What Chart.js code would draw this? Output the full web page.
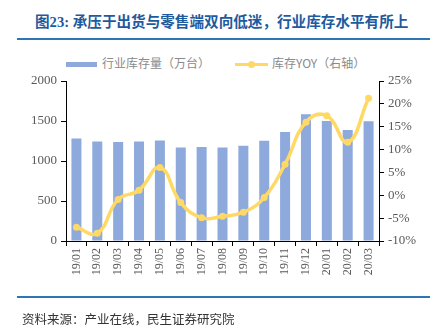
<!DOCTYPE html>
<html>
<head>
<meta charset="utf-8">
<script src="https://cdn.jsdelivr.net/npm/chart.js@4/dist/chart.umd.min.js"></script>
<style>
  body { margin: 0; background: #fff; }
  #wrap { position: relative; width: 444px; height: 327px; overflow: hidden; }
  #chart { position: absolute; left: 0; top: 0; }
  .title { position: absolute; left: 35px; top: 10px; font: bold 14.6px "Liberation Serif", "DejaVu Serif", "Noto Sans CJK SC", serif; color: #1E5A9E; white-space: nowrap; }
  .rule { position: absolute; left: 17px; width: 413px; height: 2px; background: #2E75B6; }
  .legend { position: absolute; top: 54px; font: 12px "Noto Sans CJK SC", serif; color: #8a8a8a; white-space: nowrap; }
  .src { position: absolute; left: 22px; top: 309px; font: 12.5px "Noto Sans CJK SC", serif; color: #333; white-space: nowrap; }
</style>
</head>
<body>
<div id="wrap">
  <div class="title">图23: 承压于出货与零售端双向低迷，行业库存水平有所上</div>
  <div class="rule" style="top:38px"></div>
  <div class="legend" style="left:66px">
    <span style="display:inline-block;width:31px;height:5px;background:#8EA9DB;vertical-align:middle;margin-right:5px"></span>行业库存量（万台）
  </div>
  <div class="legend" style="left:235px">
    <span style="display:inline-block;position:relative;width:33px;height:3px;background:#FFD966;vertical-align:middle;margin-right:4px"><span style="position:absolute;left:13px;top:-2px;width:7px;height:7px;border-radius:50%;background:#FFD966"></span></span>库存YOY（右轴）
  </div>
  <canvas id="chart" width="444" height="327"></canvas>
  <div class="rule" style="top:296px"></div>
  <div class="src">资料来源：产业在线，民生证券研究院</div>
</div>
<script>
const months = ['19/01', '19/02', '19/03', '19/04', '19/05', '19/06', '19/07', '19/08',
  '19/09', '19/10', '19/11', '19/12', '20/01', '20/02', '20/03']
const inventory = [1282, 1245, 1236, 1245, 1257, 1170, 1174, 1170, 1190, 1252, 1364, 1584, 1501, 1389, 1497]
const yoy = [-7.0, -8.3, -0.9, 1.1, 6.1, -1.6, -4.9, -4.6, -3.7, -0.5, 6.8, 16.0, 17.4, 11.6, 21.2]

const serif = '"Liberation Serif", "DejaVu Serif", "Times New Roman", serif'
const tickFont = { family: serif, size: 13 }
const tickColor = '#595959'

const config = {
  data: {
    labels: months,
    datasets: [
      {
        type: 'line',
        label: '库存YOY（右轴）',
        data: yoy,
        yAxisID: 'y1',
        borderColor: '#FFD966',
        backgroundColor: '#FFD966',
        borderWidth: 3.5,
        pointRadius: 3.5,
        pointBorderWidth: 0,
        tension: 0.45,
        order: 0
      },
      {
        type: 'bar',
        label: '行业库存量（万台）',
        data: inventory,
        yAxisID: 'y',
        backgroundColor: '#8EA9DB',
        categoryPercentage: 1,
        barPercentage: 0.48,
        order: 1
      }
    ]
  },
  options: {
    responsive: false,
    animation: false,
    layout: { padding: { top: 81, left: 0, right: 0, bottom: 0 } },
    plugins: {
      legend: { display: false },
      tooltip: { enabled: false }
    },
    scales: {
      x: {
        grid: { display: true, drawOnChartArea: false, color: '#000', tickLength: 5, offset: true },
        border: { color: '#000', width: 1 },
        ticks: { font: { family: serif, size: 12 }, color: tickColor, minRotation: 90, maxRotation: 90, padding: 2 },
        afterFit: (s) => { s.height = 86 }
      },
      y: {
        position: 'left',
        min: 0,
        max: 2000,
        grid: { display: true, drawOnChartArea: false, color: '#000', tickLength: 5 },
        border: { color: '#000', width: 1 },
        ticks: { stepSize: 500, font: tickFont, color: tickColor, padding: 4, callback: (v) => String(v) },
        afterFit: (s) => { s.width = 66 }
      },
      y1: {
        position: 'right',
        min: -10,
        max: 25,
        grid: { display: true, drawOnChartArea: false, color: '#000', tickLength: 5 },
        border: { color: '#000', width: 1 },
        ticks: { stepSize: 5, font: tickFont, color: tickColor, padding: 4, callback: (v) => v + '%' },
        afterFit: (s) => { s.width = 65 }
      }
    }
  }
}

const mychart = new Chart(document.getElementById('chart').getContext('2d'), config)
</script>
</body>
</html>
